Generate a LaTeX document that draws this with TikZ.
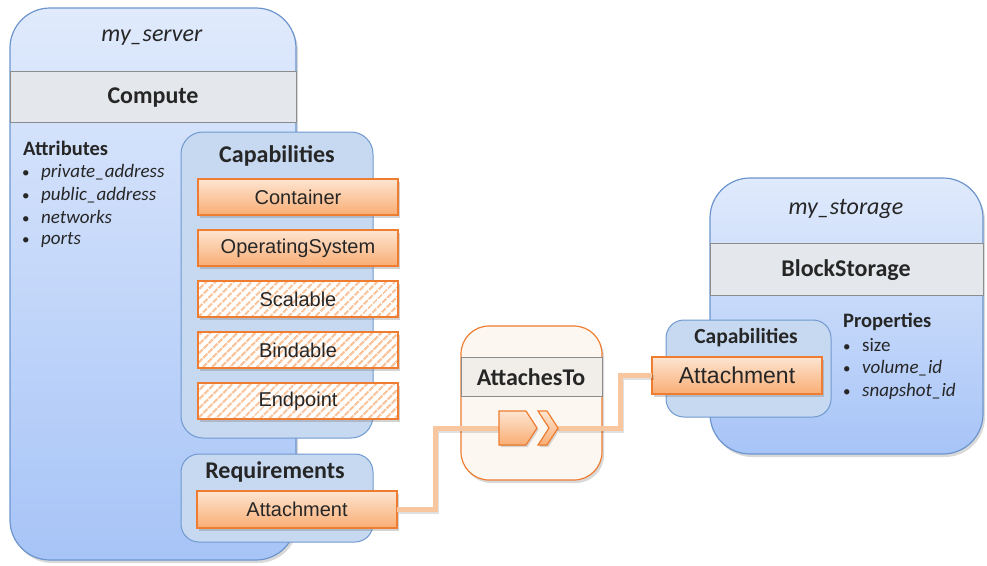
\documentclass[tikz,border=0pt]{standalone}
\usepackage{fontspec}
\setmainfont{Carlito}
\newfontfamily\arialf{Liberation Sans}
\usetikzlibrary{shadows,patterns.meta}
\definecolor{blueTop}{HTML}{E0EAFC}
\definecolor{blueBot}{HTML}{A7C4F7}
\definecolor{blueLine}{HTML}{6C95CE}
\definecolor{capFill}{HTML}{C6D9F1}
\definecolor{capLine}{HTML}{7099CF}
\definecolor{bandFill}{HTML}{E4E7EB}
\definecolor{bandLine}{HTML}{8C8C8C}
\definecolor{orLine}{HTML}{EE7D31}
\definecolor{orTop}{HTML}{FDE5D1}
\definecolor{orBot}{HTML}{F9AD74}
\definecolor{stripe}{HTML}{FAC49C}
\definecolor{attFill}{HTML}{FDF7F1}
\definecolor{attBand}{HTML}{F1EEEA}
\definecolor{connC}{HTML}{F8C7A0}
\definecolor{txt}{HTML}{262626}
\tikzset{
  shad/.style={drop shadow={opacity=0.3, shadow xshift=2pt, shadow yshift=-3pt}},
  outerbox/.style={draw=blueLine, line width=1.2pt, rounded corners=40pt, top color=blueTop, bottom color=blueBot, shad, anchor=north west, inner sep=0pt, outer sep=0pt},
  band/.style={draw=bandLine, fill=bandFill, line width=0.8pt, anchor=north west, inner sep=0pt, outer sep=0pt},
  capbox/.style={draw=capLine, line width=1pt, fill=capFill, rounded corners=22pt, anchor=north west, inner sep=0pt, outer sep=0pt},
  orbox/.style={draw=orLine, line width=1.2pt, top color=orTop, bottom color=orBot, drop shadow={opacity=0.35, shadow xshift=1.5pt, shadow yshift=-2.5pt}, anchor=north west, inner sep=0pt, outer sep=0pt, font=\arialf\fontsize{20}{23}\selectfont, text=txt, minimum width=200pt, minimum height=36pt},
  hatchbox/.style={draw=orLine, line width=1.2pt, drop shadow={opacity=0.35, shadow xshift=1.5pt, shadow yshift=-2.5pt}, preaction={fill=white}, pattern={Lines[angle=45,distance=6.5pt,line width=2.6pt]}, pattern color=stripe, anchor=north west, inner sep=0pt, outer sep=0pt, font=\arialf\fontsize{20}{23}\selectfont, text=txt, minimum width=200pt, minimum height=36pt},
  ttl/.style={text=txt, inner sep=0pt, font=\fontsize{24}{27}\selectfont},
  btl/.style={text=txt, inner sep=0pt, font=\bfseries\fontsize{24}{27}\selectfont},
  lst/.style={text=txt, inner sep=0pt, anchor=west, font=\fontsize{19}{22}\selectfont},
  conn/.style={draw=connC, line width=5pt},
  connsh/.style={draw=black, opacity=0.12, line width=5pt, transform canvas={xshift=1.5pt, yshift=-2pt}},
  arrshape/.style={draw=orLine, line width=1.2pt, top color=orTop, bottom color=orBot, drop shadow={opacity=0.3, shadow xshift=1.5pt, shadow yshift=-2pt}},
}
\begin{document}
\begin{tikzpicture}[x=1pt,y=-1pt]
\useasboundingbox (0,0) rectangle (987,565);

% ---------- my_server ----------
\node[outerbox, minimum width=286pt, minimum height=552pt] (server) at (10,8) {};
\node[ttl] (srvname) at (152,38) {\textit{my\_server}};
\node[band, minimum width=286pt, minimum height=51pt] (srvband) at (10,71) {};
\node[btl] (compute) at (153,98) {Compute};

\node[lst, font=\bfseries\fontsize{20.5}{23}\selectfont] (attr) at (23,148) {Attributes};
\node[lst] (a1) at (22,172) {\makebox[19pt][l]{\fontsize{15}{18}\selectfont •}\textit{private\_address}};
\node[lst] (a2) at (22,195) {\makebox[19pt][l]{\fontsize{15}{18}\selectfont •}\textit{public\_address}};
\node[lst] (a3) at (22,217) {\makebox[19pt][l]{\fontsize{15}{18}\selectfont •}\textit{networks}};
\node[lst] (a4) at (22,240) {\makebox[19pt][l]{\fontsize{15}{18}\selectfont •}\textit{ports}};

% capabilities
\node[capbox, minimum width=192pt, minimum height=306pt] (caps) at (181,132) {};
\node[btl] (capsT) at (277,156) {Capabilities};
\node[orbox] (container) at (198,179) {Container};
\node[orbox] (os) at (198,230) {OperatingSystem};
\node[hatchbox] (scal) at (198,281) {Scalable};
\node[hatchbox] (bind) at (198,332) {Bindable};
\node[hatchbox] (endp) at (198,383) {Endpoint};

% requirements
\node[capbox, rounded corners=18pt, minimum width=192pt, minimum height=88pt] (reqs) at (181,454) {};
\node[btl] (reqsT) at (275,472) {Requirements};
\node[orbox, minimum height=37pt] (reqatt) at (197,491) {Attachment};

% ---------- AttachesTo ----------
\node[draw=orLine, line width=1.2pt, fill=attFill, rounded corners=28pt, shad, anchor=north west, inner sep=0pt, outer sep=0pt, minimum width=141pt, minimum height=154pt] (attto) at (461,326) {};
\node[band, fill=attBand, minimum width=141pt, minimum height=39pt] (atttoband) at (461,357) {};
\node[btl] (atttoT) at (531,377) {AttachesTo};

% ---------- my_storage ----------
\node[outerbox, minimum width=273pt, minimum height=276pt] (storage) at (710,178) {};
\node[ttl] (stname) at (846,209) {\textit{my\_storage}};
\node[band, minimum width=273pt, minimum height=52pt] (stband) at (710,243) {};
\node[btl] (block) at (846,270) {BlockStorage};

\node[lst, font=\bfseries\fontsize{20.5}{23}\selectfont] (props) at (843,322) {Properties};
\node[lst] (p1) at (843,345) {\makebox[19pt][l]{\fontsize{15}{18}\selectfont •}size};
\node[lst] (p2) at (843,368) {\makebox[19pt][l]{\fontsize{15}{18}\selectfont •}\textit{volume\_id}};
\node[lst] (p3) at (843,391) {\makebox[19pt][l]{\fontsize{15}{18}\selectfont •}\textit{snapshot\_id}};

\node[capbox, rounded corners=18pt, minimum width=165pt, minimum height=97pt] (stcaps) at (666,320) {};
\node[btl, font=\bfseries\fontsize{21.5}{24}\selectfont] (stcapsT) at (746,338) {Capabilities};
\node[orbox, font=\arialf\fontsize{23}{26}\selectfont, minimum width=170pt, minimum height=37pt] (statt) at (652,357) {Attachment};

% ---------- connectors ----------
\coordinate (arrin) at (499,428);
\coordinate (arrout) at (557,428);
\draw[connsh] (reqatt.east) -- ++(38,0) |- (arrin);
\draw[connsh] (arrout) -- ++(63,0) |- (statt.west);
\draw[conn] (reqatt.east) -- ++(38,0) |- (arrin);
\draw[conn] (arrout) -- ++(63,0) |- (statt.west);

\filldraw[arrshape] (499,411) -- (526,411) -- (537,428) -- (526,445) -- (499,445) -- cycle;
\filldraw[arrshape] (538,411) -- (547,411) -- (558,428) -- (547,445) -- (538,445) -- (549,428) -- cycle;
\end{tikzpicture}
\end{document}
